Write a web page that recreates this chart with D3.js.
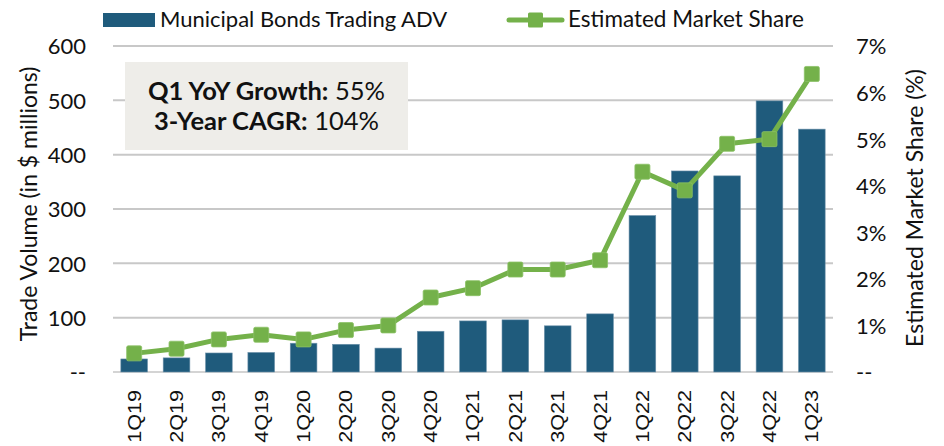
<!DOCTYPE html>
<html>
<head>
<meta charset="utf-8">
<script src="https://cdn.jsdelivr.net/npm/d3@7"></script>
<style>
  body { margin: 0; background: #fff; }
  svg text { font-family: Lato, "Open Sans", sans-serif; fill: #111; }
</style>
</head>
<body>
<script>
"use strict";

// data
const quarters = ["1Q19","2Q19","3Q19","4Q19","1Q20","2Q20","3Q20","4Q20","1Q21","2Q21","3Q21","4Q21","1Q22","2Q22","3Q22","4Q22","1Q23"];
const adv = [24, 26, 35, 36, 53, 51, 44, 75, 94, 96, 85, 107, 288, 370, 361, 499, 447];
const share = [0.4, 0.5, 0.7, 0.8, 0.7, 0.9, 1.0, 1.6, 1.8, 2.2, 2.2, 2.4, 4.3, 3.9, 4.9, 5.0, 6.4];
const leftTicks = [0, 100, 200, 300, 400, 500, 600];
const rightTicks = [0, 1, 2, 3, 4, 5, 6, 7];

const barColor = "#1f5b7c", lineColor = "#74b14a";
const wSvg = 944, hSvg = 446;
const x0 = 113, x1 = 833, yTop = 46, yBot = 372;

let svg = d3.select("body").append("svg")
    .attr("width", wSvg).attr("height", hSvg);

let xScale = d3.scaleBand()
    .domain(quarters)
    .range([x0, x1])
    .paddingInner(0.37)
    .paddingOuter(0.185);

let yLeft = d3.scaleLinear().domain([0, 600]).range([yBot, yTop]);
let yRight = d3.scaleLinear().domain([0, 7]).range([yBot, yTop]);

// gridlines
svg.append("g").selectAll("line")
    .data(leftTicks)
    .enter().append("line")
    .attr("x1", x0).attr("x2", x1)
    .attr("y1", d => yLeft(d)).attr("y2", d => yLeft(d))
    .attr("stroke", d => d == 0 ? "#d4d4d4" : "#c8c8c8")
    .attr("stroke-width", 2);

// left axis
let leftAxis = svg.append("g")
    .attr("transform", `translate(${x0 - 27}, 0)`)
    .call(d3.axisLeft(yLeft).tickValues(leftTicks).tickSize(0).tickPadding(0)
        .tickFormat(d => d == 0 ? "--" : d));
leftAxis.select(".domain").remove();
leftAxis.selectAll("text").style("font-size", "22px").attr("dy", "0.36em");

// right axis
let rightAxis = svg.append("g")
    .attr("transform", `translate(${x1 + 23}, 0)`)
    .call(d3.axisRight(yRight).tickValues(rightTicks).tickSize(0).tickPadding(0)
        .tickFormat(d => d == 0 ? "--" : d + "%"));
rightAxis.select(".domain").remove();
rightAxis.selectAll("text").style("font-size", "22px").attr("dy", "0.36em");

// x axis labels
let xAxis = svg.append("g")
    .attr("transform", `translate(0, ${yBot + 18})`)
    .call(d3.axisBottom(xScale).tickSize(0).tickPadding(0));
xAxis.select(".domain").remove();
xAxis.selectAll("text")
    .style("font-family", "'Liberation Sans', Arial, sans-serif")
    .style("font-size", "18px")
    .attr("transform", "rotate(-90) scale(1.2, 1)")
    .attr("text-anchor", "end")
    .attr("x", 0).attr("y", 0).attr("dy", "0.36em");

// axis titles
svg.append("text")
    .attr("transform", `translate(37, 204) rotate(-90)`)
    .attr("text-anchor", "middle")
    .style("font-size", "23px")
    .text("Trade Volume (in $ millions)");

svg.append("text")
    .attr("transform", `translate(923, 208) rotate(-90)`)
    .attr("text-anchor", "middle")
    .style("font-size", "23px")
    .text("Estimated Market Share (%)");

// bars
svg.append("g").selectAll("rect")
    .data(adv)
    .enter().append("rect")
    .attr("x", (d, i) => xScale(quarters[i]))
    .attr("y", d => yLeft(d))
    .attr("width", xScale.bandwidth())
    .attr("height", d => yBot - yLeft(d))
    .attr("fill", barColor)
    .attr("stroke", "#6f93ab")
    .attr("stroke-width", 0.6);

// share line
let line = d3.line()
    .x((d, i) => xScale(quarters[i]) + xScale.bandwidth() / 2)
    .y(d => yRight(d));

svg.append("path")
    .datum(share)
    .attr("d", line)
    .attr("fill", "none")
    .attr("stroke", lineColor)
    .attr("stroke-width", 5)
    .attr("stroke-linejoin", "round");

svg.append("g").selectAll("rect")
    .data(share)
    .enter().append("rect")
    .attr("x", (d, i) => xScale(quarters[i]) + xScale.bandwidth() / 2 - 7.5)
    .attr("y", d => yRight(d) - 7.5)
    .attr("width", 15).attr("height", 15)
    .attr("rx", 1.5)
    .attr("fill", lineColor)
    .attr("stroke", "#8cc266")
    .attr("stroke-width", 0.8);

// annotation box
let note = svg.append("g");
note.append("rect")
    .attr("x", 125).attr("y", 62)
    .attr("width", 283).attr("height", 88)
    .attr("fill", "#eeede9");
let noteLines = [["Q1 YoY Growth:", " 55%"], ["3-Year CAGR:", " 104%"]];
noteLines.forEach((t, i) => {
    let tx = note.append("text")
        .attr("x", 266.5).attr("y", 100 + i * 30)
        .attr("text-anchor", "middle")
        .style("font-size", "25.5px");
    tx.append("tspan").attr("font-weight", "bold").text(t[0]);
    tx.append("tspan").text(t[1]);
});

// legend
let legend = svg.append("g");
legend.append("rect")
    .attr("x", 103).attr("y", 13).attr("width", 52).attr("height", 14)
    .attr("fill", barColor);
legend.append("text")
    .attr("x", 160).attr("y", 27)
    .style("font-size", "22px")
    .text("Municipal Bonds Trading ADV");
legend.append("line")
    .attr("x1", 509).attr("x2", 562).attr("y1", 20).attr("y2", 20)
    .attr("stroke", lineColor).attr("stroke-width", 5)
    .attr("stroke-linecap", "round");
legend.append("rect")
    .attr("x", 528).attr("y", 12.5).attr("width", 15).attr("height", 15).attr("rx", 1.5)
    .attr("fill", lineColor);
legend.append("text")
    .attr("x", 568).attr("y", 27)
    .style("font-size", "22.5px")
    .text("Estimated Market Share");
</script>
</body>
</html>
